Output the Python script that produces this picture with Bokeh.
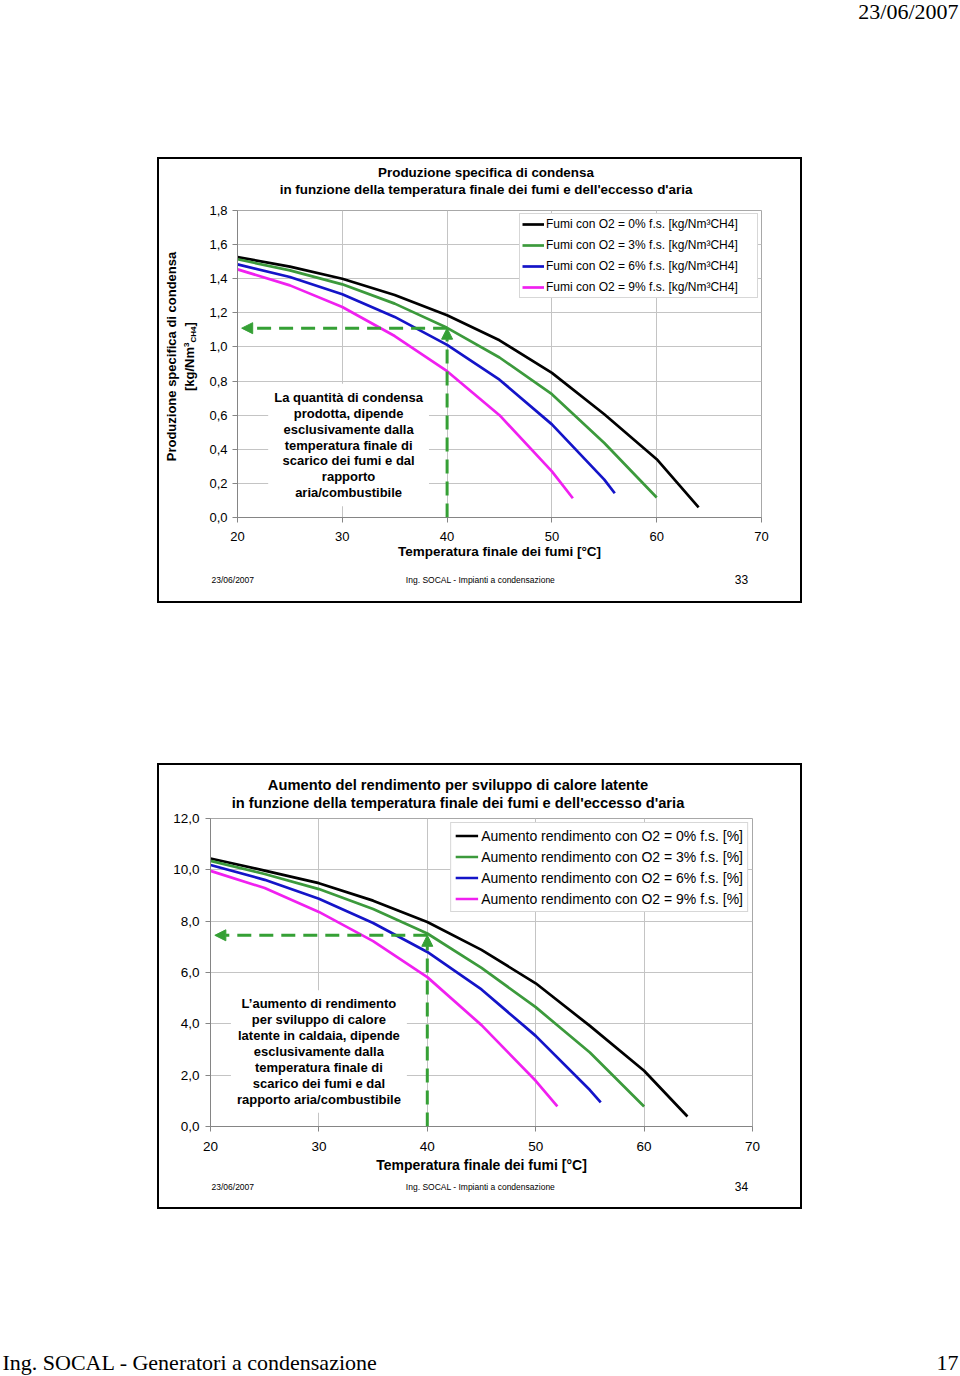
import math
from bokeh.plotting import figure
from bokeh.models import (Range1d, FixedTicker, CustomJSTickFormatter, Label, Arrow,
                          NormalHead, Spacer)
from bokeh.layouts import row, column
from bokeh.embed import file_html
from bokeh.resources import INLINE

# ---------------- data ----------------
temp_ticks = [20, 30, 40, 50, 60, 70]
cond_ticks = [0.0, 0.2, 0.4, 0.6, 0.8, 1.0, 1.2, 1.4, 1.6, 1.8]
eff_ticks = [0, 2, 4, 6, 8, 10, 12]

temp_o2_0 = [20, 25, 30, 35, 40, 45, 50, 55, 60, 64]
temp_o2_3 = [20, 25, 30, 35, 40, 45, 50, 55, 60]
temp_o2_6 = [20, 25, 30, 35, 40, 45, 50, 55, 56]
temp_o2_9 = [20, 25, 30, 35, 40, 45, 50, 52]

cond_o2_0 = [1.527, 1.471, 1.400, 1.305, 1.186, 1.039, 0.848, 0.605, 0.342, 0.060]
cond_o2_3 = [1.514, 1.449, 1.367, 1.254, 1.112, 0.938, 0.723, 0.437, 0.117]
cond_o2_6 = [1.484, 1.410, 1.309, 1.176, 1.012, 0.808, 0.546, 0.222, 0.142]
cond_o2_9 = [1.455, 1.361, 1.234, 1.064, 0.858, 0.600, 0.270, 0.113]

eff_o2_0 = [10.44, 9.97, 9.48, 8.80, 7.97, 6.88, 5.58, 3.92, 2.17, 0.39]
eff_o2_3 = [10.35, 9.84, 9.25, 8.47, 7.52, 6.18, 4.65, 2.88, 0.78]
eff_o2_6 = [10.19, 9.61, 8.87, 7.93, 6.80, 5.34, 3.53, 1.42, 0.94]
eff_o2_9 = [9.96, 9.29, 8.36, 7.22, 5.82, 3.95, 1.78, 0.78]

ref_temp = 40
cond_ref = 1.11
eff_ref = 7.45

cond_labels = ["Fumi con O2 = 0% f.s. [kg/Nm³CH4]", "Fumi con O2 = 3% f.s. [kg/Nm³CH4]",
               "Fumi con O2 = 6% f.s. [kg/Nm³CH4]", "Fumi con O2 = 9% f.s. [kg/Nm³CH4]"]
eff_labels = ["Aumento rendimento con O2 = 0% f.s. [%]", "Aumento rendimento con O2 = 3% f.s. [%]",
              "Aumento rendimento con O2 = 6% f.s. [%]", "Aumento rendimento con O2 = 9% f.s. [%]"]

# ---------------- style ----------------
FONT = "Liberation Sans"
SERIF = "Liberation Serif"
COLORS = ["#000000", "#3c9a3c", "#1414c8", "#f020f0"]
ARROW_GREEN = "#35a035"
SLIDE_STYLE = {"box-shadow": "inset 0 0 0 2px #000000"}


def base_chart(width, height, ymax, yticks, borders, tick_size, y_standoff, x_standoff,
               xlabel_size, xlabel_standoff):
    left, right, top, bottom = borders
    p = figure(width=width, height=height, x_range=Range1d(20, 70), y_range=Range1d(0, ymax),
               output_backend="svg", toolbar_location=None,
               min_border_left=left, min_border_right=right,
               min_border_top=top, min_border_bottom=bottom,
               background_fill_color="white", border_fill_alpha=0.0,
               outline_line_color="#a8a8a8")
    p.xaxis.ticker = FixedTicker(ticks=temp_ticks)
    p.yaxis.ticker = FixedTicker(ticks=yticks)
    p.yaxis.formatter = CustomJSTickFormatter(code="return tick.toFixed(1).replace('.', ',');")
    for ax in (p.xaxis[0], p.yaxis[0]):
        ax.axis_line_color = "#858585"
        ax.major_tick_line_color = "#858585"
        ax.major_tick_out = 5
        ax.major_tick_in = 0
        ax.minor_tick_out = 0
        ax.minor_tick_in = 0
        ax.major_label_text_font = FONT
        ax.major_label_text_font_size = tick_size
        ax.major_label_text_color = "black"
    p.yaxis.major_label_standoff = y_standoff
    p.xaxis.major_label_standoff = x_standoff
    p.xaxis.axis_label = "Temperatura finale dei fumi [°C]"
    p.xaxis.axis_label_text_font = FONT
    p.xaxis.axis_label_text_font_style = "bold"
    p.xaxis.axis_label_text_font_size = xlabel_size
    p.xaxis.axis_label_text_color = "black"
    p.xaxis.axis_label_standoff = xlabel_standoff
    p.grid.grid_line_color = "#c4c4c4"
    p.grid.grid_line_width = 1
    return p


def add_series(p, temps, vals, labels):
    for t, v, lab, c in zip(temps, vals, labels, COLORS):
        p.line(t, v, line_color=c, line_width=2.7, legend_label=lab)


def style_legend(lg, margin, padding, spacing, gw, gh, standoff, lw, size):
    lg.location = "top_right"
    lg.margin = margin
    lg.padding = padding
    lg.spacing = spacing
    lg.glyph_width = gw
    lg.glyph_height = gh
    lg.label_height = gh
    lg.label_standoff = standoff
    lg.label_width = lw
    lg.label_text_font = FONT
    lg.label_text_font_size = size
    lg.label_text_color = "black"
    lg.border_line_color = "#b0b0b0"
    lg.background_fill_alpha = 1.0


def add_arrows(p, x_ref, y_ref, x_min):
    p.add_layout(Arrow(start=None,
                       end=NormalHead(size=11, fill_color=ARROW_GREEN, line_color=ARROW_GREEN),
                       x_start=x_ref, y_start=y_ref, x_end=x_min + 0.4, y_end=y_ref,
                       line_color=ARROW_GREEN, line_width=3, line_dash="14 8"))
    p.add_layout(Arrow(start=None,
                       end=NormalHead(size=11, fill_color=ARROW_GREEN, line_color=ARROW_GREEN),
                       x_start=x_ref, y_start=0, x_end=x_ref, y_end=y_ref,
                       line_color=ARROW_GREEN, line_width=3, line_dash="14 8"))


def band(w, h):
    """Transparent text strip whose data units are pixels."""
    p = figure(width=w, height=h, x_range=Range1d(0, w), y_range=Range1d(0, h),
               x_axis_type=None, y_axis_type=None, output_backend="svg",
               toolbar_location=None, min_border=0, outline_line_color=None,
               background_fill_alpha=0.0, border_fill_alpha=0.0)
    p.grid.visible = False
    return p


def put(p, text, x, y_top, size, align="center", bold=False, angle=0.0, font=FONT):
    p.add_layout(Label(x=x, y=p.y_range.end - y_top, text=text, text_font=font,
                       text_font_size=size, text_align=align, text_baseline="middle",
                       text_font_style="bold" if bold else "normal", text_color="black",
                       angle=angle))


def slide_footer(number, h, y_top):
    f = band(645, h)
    put(f, "23/06/2007", 54, y_top, "8.5px", align="left")
    put(f, "Ing. SOCAL - Impianti a condensazione", 323, y_top, "8.5px")
    put(f, number, 584, y_top, "12px")
    return f


# ---------------- slide 1 ----------------
t1 = band(645, 43)
put(t1, "Produzione specifica di condensa", 328.5, 15, "13.4px", bold=True)
put(t1, "in funzione della temperatura finale dei fumi e dell'eccesso d'aria", 328.5, 32,
    "13.4px", bold=True)

yl1 = band(46, 365)
put(yl1, "Produzione specifica di condensa", 14, 156, "13px", bold=True, angle=math.pi / 2)
put(yl1, "[kg/Nm", 32, 190.5, "13px", align="left", bold=True, angle=math.pi / 2)
put(yl1, "3", 28.5, 146.4, "8px", align="left", bold=True, angle=math.pi / 2)
put(yl1, "CH4", 35.5, 142.0, "8px", align="left", bold=True, angle=math.pi / 2)
put(yl1, "]", 32, 126.0, "13px", align="left", bold=True, angle=math.pi / 2)

p1 = base_chart(599, 365, 1.8, cond_ticks, (34, 41, 10, 48), "13px", 5, 9, "13.5px", 0)
add_series(p1, [temp_o2_0, temp_o2_3, temp_o2_6, temp_o2_9],
           [cond_o2_0, cond_o2_3, cond_o2_6, cond_o2_9], cond_labels)
style_legend(p1.legend[0], 3, 2, 5, 22, 16, 2, 209, "12px")
add_arrows(p1, ref_temp, cond_ref, 20)
p1.add_layout(Label(x=30.6, y=0.425,
                    text="La quantità di condensa\nprodotta, dipende\nesclusivamente dalla\n"
                         "temperatura finale di\nscarico dei fumi e dal\nrapporto\naria/combustibile",
                    text_font=FONT, text_font_size="13px", text_font_style="bold",
                    text_align="center", text_baseline="middle", text_line_height=1.06,
                    text_color="black", background_fill_color="white", padding=6))

f1 = slide_footer("33", 38, 14)
slide1 = column(t1, row(column(yl1), column(p1)), f1, styles=SLIDE_STYLE)

# ---------------- slide 2 ----------------
t2 = band(645, 49)
put(t2, "Aumento del rendimento per sviluppo di calore latente", 300.5, 21, "14.7px", bold=True)
put(t2, "in funzione della temperatura finale dei fumi e dell'eccesso d'aria", 300.5, 39,
    "14.7px", bold=True)

p2 = base_chart(645, 364, 12, eff_ticks, (53, 50, 6, 50), "13.5px", 6, 10, "14px", 3)
add_series(p2, [temp_o2_0, temp_o2_3, temp_o2_6, temp_o2_9],
           [eff_o2_0, eff_o2_3, eff_o2_6, eff_o2_9], eff_labels)
style_legend(p2.legend[0], 4, 4, 4, 23, 17, 3, 261, "14px")
add_arrows(p2, ref_temp, eff_ref, 20)
p2.add_layout(Label(x=30.0, y=2.92,
                    text="L\u2019aumento di rendimento\nper sviluppo di calore\n"
                         "latente in caldaia, dipende\nesclusivamente dalla\ntemperatura finale di\n"
                         "scarico dei fumi e dal\nrapporto aria/combustibile",
                    text_font=FONT, text_font_size="13px", text_font_style="bold",
                    text_align="center", text_baseline="middle", text_line_height=1.06,
                    text_color="black", background_fill_color="white", padding=6))

f2 = slide_footer("34", 33, 10)
slide2 = column(row(t2), row(p2), row(f2), styles=SLIDE_STYLE)

# ---------------- page header / footer ----------------
header = band(960, 157)
put(header, "23/06/2007", 958, 11, "22px", align="right", font=SERIF)

footer = band(960, 167)
put(footer, "Ing. SOCAL - Generatori a condensazione", 2, 153, "22px", align="left", font=SERIF)
put(footer, "17", 958, 153, "22px", align="right", font=SERIF)

layout = column(header,
                row(Spacer(width=157, height=446), slide1),
                Spacer(width=960, height=160),
                row(Spacer(width=157, height=446), slide2),
                footer)

open("out.html", "w").write(file_html(layout, INLINE))
